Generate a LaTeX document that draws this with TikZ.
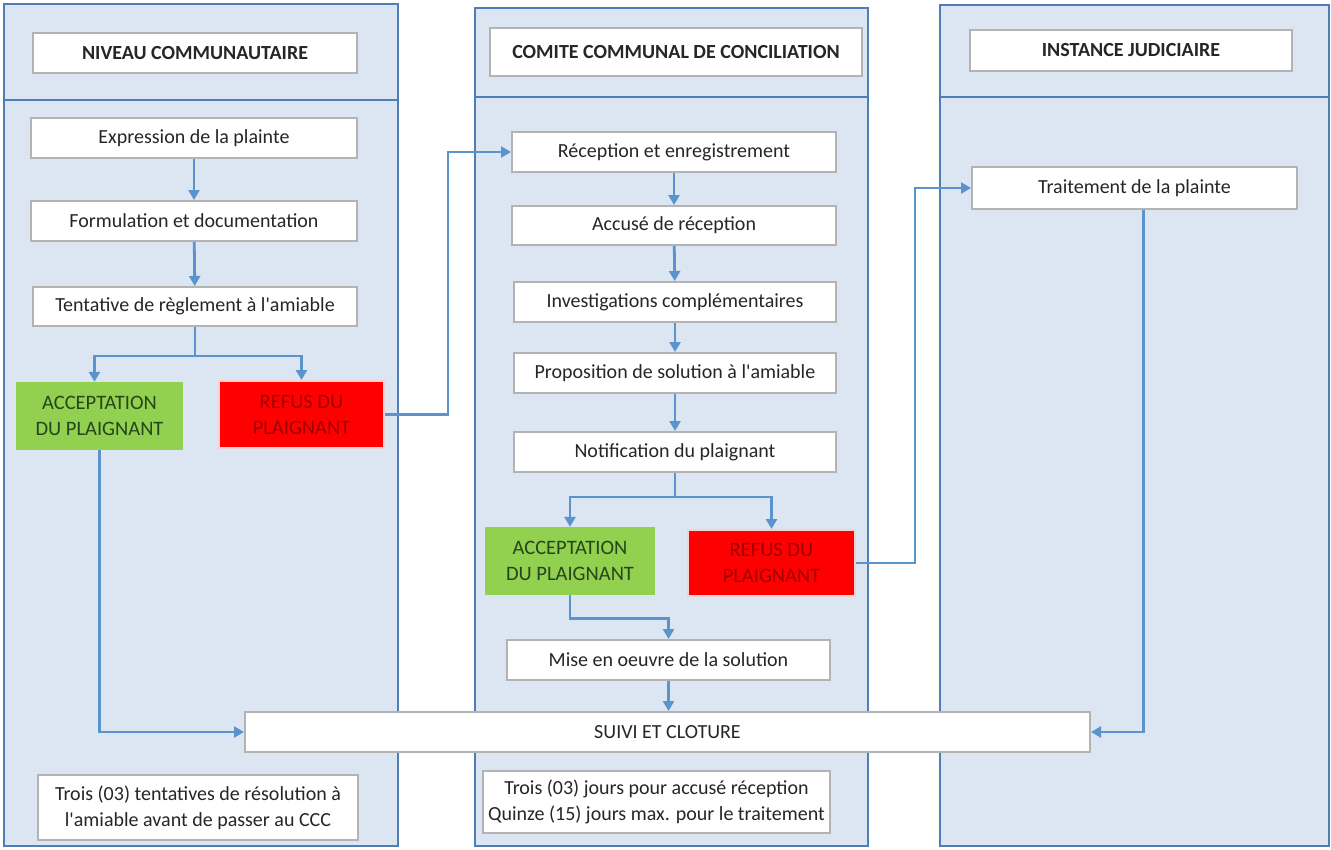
\documentclass[tikz,border=0pt]{standalone}
\usepackage{fontspec}
\setmainfont{Carlito}
\usepackage{xcolor}
\usetikzlibrary{arrows, arrows.meta}
\usetikzlibrary{positioning}
\usetikzlibrary{calc}
\definecolor{lanefill}{HTML}{DCE6F2}
\definecolor{laneline}{HTML}{4F7DB5}
\definecolor{flowblue}{HTML}{5B93CC}
\definecolor{boxgray}{HTML}{B3B3B3}
\definecolor{okgreen}{HTML}{92D050}
\definecolor{okgreentext}{HTML}{25451C}
\definecolor{nored}{HTML}{FF0000}
\definecolor{noredtext}{HTML}{9E0000}
\definecolor{txt}{HTML}{262626}

\begin{document}
\begin{tikzpicture}[x=1pt, y=-1pt,
		box/.style={draw=boxgray, line width=2pt, fill=white, inner sep=0pt,
			text=txt, font=\fontsize{20}{26}\selectfont, align=center},
		hdr/.style={box, font=\fontsize{20}{24}\selectfont\bfseries},
		accbox/.style={fill=okgreen, text=okgreentext, inner sep=0pt,
			font=\fontsize{20.5}{26}\selectfont, align=center},
		refbox/.style={fill=nored, draw=boxgray!60!red!30, line width=2pt, text=noredtext, inner sep=0pt,
			font=\fontsize{20.5}{26}\selectfont, align=center},
		lane/.style={fill=lanefill, draw=laneline, line width=1.6pt},
		flow/.style={draw=flowblue, line width=2.8pt, -{Triangle[length=10pt,width=11pt]}},
		link/.style={draw=flowblue, line width=2.8pt}]
	\useasboundingbox (0,0) rectangle (1331,849);
	% draw lanes
	\draw[lane] (4,4) rectangle (398,846);
	\draw[lane] (475,8) rectangle (868,846);
	\draw[lane] (940,5) rectangle (1329,846);
	\draw[laneline, line width=2.6pt] (4,100) -- (398,100);
	\draw[laneline, line width=2.6pt] (475,97) -- (868,97);
	\draw[laneline, line width=2.6pt] (940,97) -- (1329,97);
	
	% headers
	\node[hdr, minimum width=324pt, minimum height=40pt] (hdrA) at (195,53) {NIVEAU COMMUNAUTAIRE};
	\node[hdr, minimum width=372pt, minimum height=48pt] (hdrB) at (676,52) {COMITE COMMUNAL DE CONCILIATION};
	\node[hdr, minimum width=322pt, minimum height=41pt] (hdrC) at (1131,50.5) {INSTANCE JUDICIAIRE};
	
	% niveau communautaire
	\node[box, minimum width=326pt, minimum height=40pt] (expr) at (194,138) {Expression de la plainte};
	\node[box, minimum width=326pt, minimum height=40pt] (form) at (194,221) {Formulation et documentation};
	\node[box, minimum width=324pt, minimum height=39pt] (tent) at (195,306.5) {Tentative de règlement à l\textquotesingle amiable};
	\node[accbox, minimum width=167pt, minimum height=68pt] (accA) at (99.5,416) {ACCEPTATION\\DU PLAIGNANT};
	\node[refbox, minimum width=165pt, minimum height=67pt] (refA) at (301.5,414.5) {REFUS DU\\PLAIGNANT};
	\node[box, minimum width=320pt, minimum height=65pt] (noteA) at (198,807.5) {Trois (03) tentatives de résolution à\\l\textquotesingle amiable avant de passer au CCC};
	
	% comite communal
	\node[box, minimum width=324pt, minimum height=40pt] (recep) at (674,152) {Réception et enregistrement};
	\node[box, minimum width=324pt, minimum height=39pt] (accuse) at (674,225.5) {Accusé de réception};
	\node[box, minimum width=322pt, minimum height=40pt] (invest) at (675,302) {Investigations complémentaires};
	\node[box, minimum width=322pt, minimum height=40pt] (propo) at (675,373) {Proposition de solution à l\textquotesingle amiable};
	\node[box, minimum width=322pt, minimum height=40pt] (notif) at (675,452) {Notification du plaignant};
	\node[accbox, minimum width=170pt, minimum height=68pt] (accB) at (570,561) {ACCEPTATION\\DU PLAIGNANT};
	\node[refbox, minimum width=167pt, minimum height=66pt] (refB) at (771.5,563) {REFUS DU\\PLAIGNANT};
	\node[box, minimum width=323pt, minimum height=40pt] (mise) at (668.5,660) {Mise en oeuvre de la solution};
	\node[box, minimum width=347pt, minimum height=62pt] (noteB) at (656.5,802) {Trois (03) jours pour accusé réception\\Quinze (15) jours max. pour le traitement};
	
	% instance judiciaire
	\node[box, minimum width=325pt, minimum height=42pt] (trait) at (1134.5,188) {Traitement de la plainte};
	
	\node[box, minimum width=845pt, minimum height=40pt] (suivi) at (667.5,732) {SUIVI ET CLOTURE};
	
	% arrows, first lane
	\draw[flow] (expr) -- (form);
	\draw[flow] (form) -- (tent);
	\draw[link] (tent.south) -- ++(0,29) coordinate (splitA);
	\draw[flow] (splitA) -| ([xshift=-5pt]accA.north);
	\draw[flow] (splitA) -| (refA.north);
	\draw[flow] (refA.east) -- ++(63,0) |- (recep.west);
	\draw[flow] (accA.south) |- (suivi.west);
	
	% arrows, second lane
	\draw[flow] (recep) -- (accuse);
	\draw[flow] (accuse) -- (invest);
	\draw[flow] (invest) -- (propo);
	\draw[flow] (propo) -- (notif);
	\draw[link] (notif.south) -- ++(0,24) coordinate (splitB);
	\draw[flow] (splitB) -| (accB.north);
	\draw[flow] (splitB) -| (refB.north);
	\draw[flow] (accB.south) -- ++(0,23) -| (mise.north);
	\draw[flow] (mise.south) -- (mise.south |- suivi.north);
	\draw[flow] (refB.east) -- ++(59,0) |- (trait.west);
	
	% arrows, third lane
	\draw[flow] ([xshift=9pt]trait.south) |- (suivi.east);
\end{tikzpicture}
\end{document}
